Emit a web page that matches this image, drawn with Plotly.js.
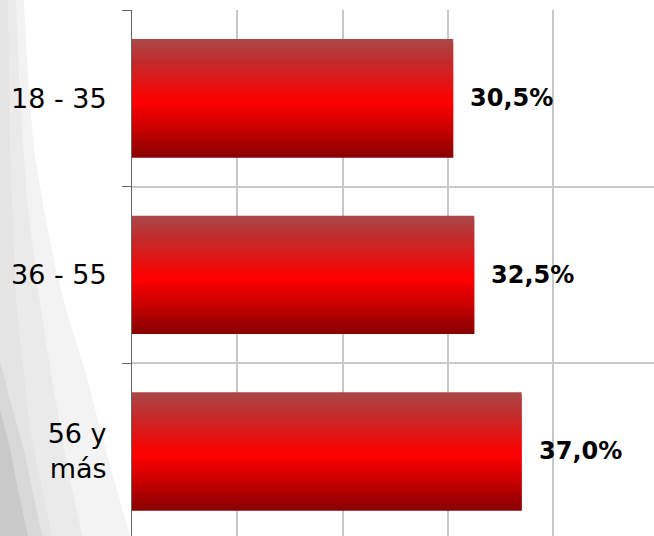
<!DOCTYPE html>
<html>
<head>
<meta charset="utf-8">
<script src="https://cdn.plot.ly/plotly-3.0.1.min.js"></script>
<style>
  html, body { margin: 0; padding: 0; background: #ffffff; overflow: hidden; }
  #chart { width: 654px; height: 536px; }
</style>
</head>
<body>
<div id="chart"></div>
<script>
// ---- data ----
var categories = ['18 - 35', '36 - 55', '56 y<br>más'];
var values = [30.5, 32.5, 37.0];
var valueLabels = ['30,5%', '32,5%', '37,0%'];

// ---- styling helpers ----
var W = 654, H = 536, ML = 132, MT = 10;
var PW = W - ML, PH = H - MT;
function px(x) { return (x - ML) / PW; }
function py(y) { return 1 - (y - MT) / PH; }
function poly(pts) {
  return 'M ' + pts.map(function (p) { return px(p[0]) + ',' + py(p[1]); }).join(' L ') + ' Z';
}

// vertical gradient stops for bars (t from top to bottom)
var stops = [
  [0.00, 170, 72, 72],
  [0.20, 196, 42, 42],
  [0.40, 232, 16, 16],
  [0.53, 255, 0, 0],
  [0.75, 202, 0, 0],
  [1.00, 135, 0, 0]
];
function gradColor(t) {
  for (var i = 0; i < stops.length - 1; i++) {
    var a = stops[i], b = stops[i + 1];
    if (t >= a[0] && t <= b[0]) {
      var f = (t - a[0]) / (b[0] - a[0]);
      var c = [];
      for (var k = 1; k <= 3; k++) c.push(Math.round(a[k] + (b[k] - a[k]) * f));
      return 'rgb(' + c.join(',') + ')';
    }
  }
  return 'rgb(135,0,0)';
}

var BAR_W = 0.67, N = 40, sw = BAR_W / N;
var traces = [];
for (var i = 0; i < N; i++) {
  traces.push({
    type: 'bar',
    orientation: 'h',
    x: values,
    y: categories,
    width: (i < N - 1) ? sw * 2 : sw,
    offset: -BAR_W / 2 + i * sw,
    marker: { color: gradColor((i + 0.5) / N), line: { width: 0 } },
    hoverinfo: 'skip',
    showlegend: false
  });
}

var annotations = values.map(function (v, i) {
  return {
    x: v, y: categories[i], xref: 'x', yref: 'y',
    text: valueLabels[i], showarrow: false,
    xanchor: 'left', yanchor: 'middle', xshift: 15,
    font: { family: 'DejaVu Sans', size: 24, color: '#000000', weight: 700 }
  };
});

// background swoosh on the left (decorative)
var shapes = [
  { type: 'path', xref: 'paper', yref: 'paper', layer: 'below', line: { width: 0 },
    fillcolor: '#f3f3f3',
    path: poly([[0,0],[24,0],[28,80],[34,150],[44,210],[56,270],[69,320],[85,370],[107,455],[130,536],[0,536]]) },
  { type: 'path', xref: 'paper', yref: 'paper', layer: 'below', line: { width: 0 },
    fillcolor: '#eaeaea',
    path: poly([[0,0],[16,0],[20,100],[27,200],[38,290],[52,380],[66,460],[82,536],[0,536]]) },
  { type: 'path', xref: 'paper', yref: 'paper', layer: 'below', line: { width: 0 },
    fillcolor: '#e4e4e4',
    path: poly([[0,0],[8,0],[10,150],[16,300],[30,430],[52,536],[0,536]]) },
  { type: 'path', xref: 'paper', yref: 'paper', layer: 'below', line: { width: 0 },
    fillcolor: '#d8d8d8',
    path: poly([[0,360],[10,400],[24,450],[42,536],[0,536]]) },
  { type: 'path', xref: 'paper', yref: 'paper', layer: 'below', line: { width: 0 },
    fillcolor: '#c9c9c9',
    path: poly([[0,410],[10,448],[18,490],[28,536],[0,536]]) }
];

var layout = {
  width: W, height: H,
  margin: { l: ML, r: 0, t: MT, b: 0, pad: 0 },
  paper_bgcolor: 'rgba(0,0,0,0)',
  plot_bgcolor: '#ffffff',
  barmode: 'overlay',
  showlegend: false,
  font: { family: 'DejaVu Sans', color: '#000000' },
  xaxis: {
    range: [0, 49.57],
    dtick: 10,
    showgrid: true, gridcolor: '#c8c8c8', gridwidth: 2,
    zeroline: false, showline: false,
    showticklabels: false, ticks: '',
    fixedrange: true
  },
  yaxis: {
    type: 'category',
    range: [2.48, -0.5],
    tickson: 'boundaries',
    ticks: 'outside', ticklen: 9, tickcolor: '#666666', tickwidth: 1,
    showgrid: true, gridcolor: '#c8c8c8', gridwidth: 2,
    showline: true, linecolor: '#666666', linewidth: 1,
    zeroline: false,
    tickfont: { family: 'DejaVu Sans', size: 27, color: '#000000' },
    ticklabelstandoff: 19,
    fixedrange: true
  },
  annotations: annotations,
  shapes: shapes
};

Plotly.newPlot('chart', traces, layout, { displayModeBar: false, staticPlot: true });
</script>
</body>
</html>
